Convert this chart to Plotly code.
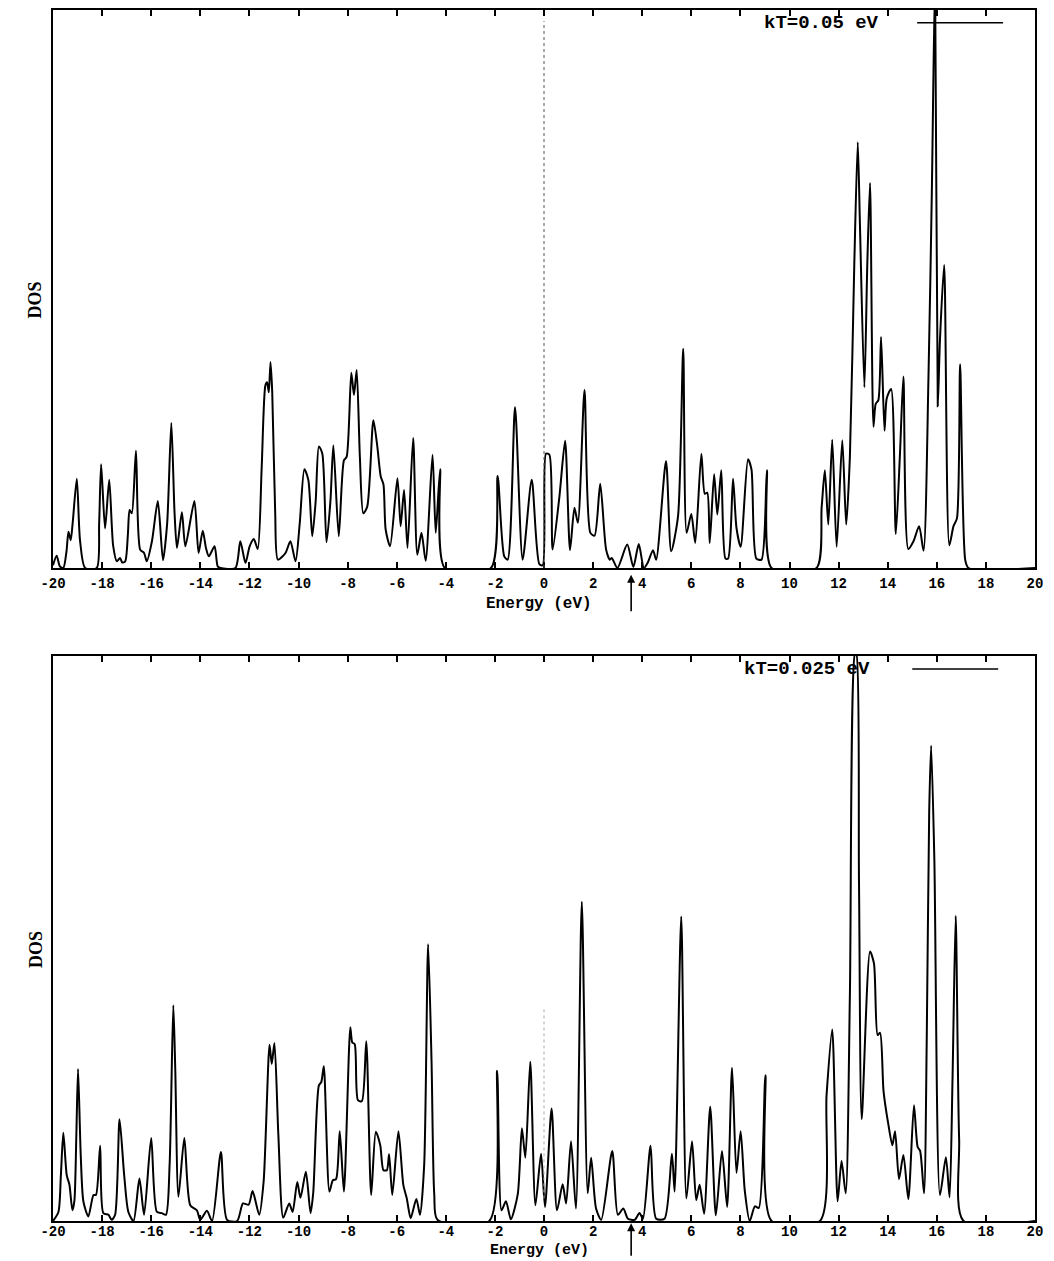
import plotly.graph_objects as go

# ---------------- data ----------------
energy_top = [-20.0, -19.85, -19.72, -19.58, -19.45, -19.37, -19.28, -19.2, -19.03, -18.9, -18.69,
              -18.22, -18.12, -18.04, -17.88, -17.71, -17.55, -17.40, -17.27, -17.18, -17.06,
              -16.95, -16.88, -16.79, -16.62, -16.45, -16.29, -16.18, -15.97, -15.73, -15.52,
              -15.35, -15.18, -15.05, -14.95, -14.75, -14.61, -14.24, -14.07, -13.90, -13.77,
              -13.65, -13.42, -13.29, -13.18, -12.57, -12.37, -12.16, -11.99, -11.82, -11.66,
              -11.50, -11.35, -11.28, -11.21, -11.14, -11.07, -10.95, -10.84, -10.53, -10.33,
              -10.12, -9.95, -9.76, -9.60, -9.44, -9.30, -9.17, -9.03, -8.86, -8.70, -8.58,
              -8.36, -8.15, -8.04, -7.85, -7.74, -7.63, -7.50, -7.36, -7.20, -6.95, -6.79,
              -6.65, -6.54, -6.45, -6.27, -5.97, -5.84, -5.70, -5.56, -5.33, -5.16, -4.99,
              -4.82, -4.54, -4.41, -4.23, -4.04, -2.16, -1.89, -1.62, -1.48, -1.18, -0.87,
              -0.50, -0.19, -0.05, 0.08, 0.22, 0.35, 0.63, 0.86, 1.06, 1.24, 1.38, 1.65,
              1.89, 2.06, 2.29, 2.53, 2.68, 2.76, 2.99, 3.39, 3.64, 3.86, 4.07, 4.23, 4.44,
              4.57, 4.97, 5.18, 5.46, 5.67, 5.81, 6.00, 6.16, 6.41, 6.55, 6.65, 6.75, 6.93,
              7.06, 7.22, 7.39, 7.50, 7.70, 7.84, 8.01, 8.31, 8.45, 8.65, 8.86, 9.08, 9.27,
              11.10, 11.31, 11.44, 11.58, 11.74, 11.92, 12.15, 12.31, 12.46, 12.64, 12.78,
              12.87, 13.05, 13.17, 13.28, 13.42, 13.51, 13.62, 13.73, 13.87, 13.96, 14.14,
              14.33, 14.50, 14.64, 14.84, 15.05, 15.28, 15.46, 15.66, 15.80, 15.93, 16.04,
              16.13, 16.30, 16.51, 16.68, 16.82, 16.95, 17.16, 17.29, 20.0]
dos_top = [0.5, 2.2, 0.3, 0, 3.0, 6.5, 5.0, 8.0, 16.0, 5.0, 0,
           0, 8.0, 18.6, 7.1, 15.8, 4.0, 1.2, 1.8, 1.0, 1.2,
           6.0, 10.4, 9.8, 21.0, 3.3, 2.7, 1.2, 4.8, 12.0, 1.4,
           8.0, 26.0, 10.0, 3.6, 10.0, 3.9, 12.0, 2.7, 6.7, 3.6,
           2.1, 3.9, 0.3, 0, 0, 4.8, 0.9, 3.9, 5.2, 3.4,
           18.0, 32.7, 33.3, 31.5, 36.9, 31.5, 10.0, 1.5, 2.7, 4.8,
           1.2, 8.0, 17.7, 15.8, 5.7, 12.0, 21.8, 20.5, 4.6, 12.0, 22.0,
           5.7, 19.3, 19.9, 35.0, 31.0, 35.5, 19.9, 9.8, 11.0, 26.5, 21.8,
           16.4, 15.0, 6.9, 3.9, 16.1, 7.5, 14.0, 3.6, 23.3, 2.4, 6.3,
           1.3, 20.3, 6.3, 17.7, 0, 0, 16.5, 2.1, 1.5, 28.8, 1.5,
           15.8, 0.7, 0.5, 20.5, 20.3, 3.3, 12.9, 22.8, 3.2, 10.8, 8.1, 31.9,
           6.3, 5.8, 15.1, 3.3, 1.5, 1.8, 0, 4.2, 0.2, 4.3, 0, 1.0, 3.2,
           1.5, 19.2, 3.0, 9.3, 39.3, 6.3, 9.7, 4.5, 20.5, 13.3, 13.5, 4.5, 16.8,
           9.6, 17.5, 1.7, 1.7, 16.0, 7.2, 3.8, 19.5, 17.7, 1.7, 1.5, 17.5, 0,
           0, 10.9, 17.5, 7.8, 23.0, 3.8, 22.9, 7.8, 20.0, 54.6, 76.3,
           61.4, 32.4, 54.6, 69.0, 25.3, 29.4, 30.1, 41.4, 24.6, 30.4, 32.1,
           6.1, 20.5, 34.3, 3.4, 4.8, 7.5, 3.1, 34.0, 68.0, 106.0, 29.0,
           41.0, 54.3, 4.1, 7.5, 8.9, 36.5, 1.4, 0, 0]

energy_bot = [-20.0, -19.78, -19.68, -19.58, -19.44, -19.33, -19.21, -19.13, -19.05, -18.98, -18.87,
              -18.76, -18.56, -18.35, -18.25, -18.08, -17.95, -17.74, -17.61, -17.47, -17.29,
              -17.10, -16.93, -16.72, -16.48, -16.29, -16.00, -15.77, -15.57, -15.40, -15.25,
              -15.10, -15.02, -14.89, -14.65, -14.41, -14.14, -14.00, -13.73, -13.52, -13.16,
              -12.91, -12.50, -12.26, -12.03, -11.87, -11.60, -11.42, -11.18, -11.09, -10.98,
              -10.82, -10.62, -10.38, -10.24, -10.05, -9.92, -9.70, -9.51, -9.40, -9.17, -9.07,
              -8.97, -8.74, -8.60, -8.47, -8.32, -8.15, -7.89, -7.81, -7.71, -7.58, -7.42,
              -7.24, -7.04, -6.85, -6.67, -6.54, -6.40, -6.31, -6.18, -5.93, -5.73, -5.59,
              -5.43, -5.20, -5.05, -4.88, -4.72, -4.58, -4.47, -4.34, -2.23, -1.91, -1.73,
              -1.55, -1.35, -1.07, -0.90, -0.76, -0.56, -0.35, -0.12, 0.04, 0.31, 0.53, 0.76,
              0.90, 1.10, 1.30, 1.54, 1.78, 1.92, 2.12, 2.33, 2.78, 3.01, 3.23, 3.42, 3.69,
              3.89, 4.03, 4.34, 4.57, 4.91, 5.21, 5.32, 5.59, 5.80, 6.03, 6.20, 6.34, 6.52,
              6.77, 7.00, 7.25, 7.46, 7.66, 7.84, 8.01, 8.18, 8.38, 8.59, 8.75, 9.02, 9.27,
              11.24, 11.51, 11.74, 11.96, 12.12, 12.29, 12.46, 12.67, 12.72, 12.83, 12.94,
              13.28, 13.44, 13.59, 13.69, 13.83, 14.03, 14.19, 14.30, 14.46, 14.64, 14.84,
              15.07, 15.22, 15.32, 15.48, 15.59, 15.69, 15.77, 15.90, 16.13, 16.37, 16.52,
              16.64, 16.77, 16.91, 17.09, 20.0]
dos_bot = [0, 1.6, 8.0, 15.6, 8.1, 6.4, 1.9, 3.5, 15.0, 26.9, 11.6,
           3.4, 0.8, 4.6, 4.6, 13.3, 1.4, 1.1, 0.2, 1.1, 18.0,
           8.1, 1.6, 0, 7.5, 1.1, 14.7, 1.6, 1.4, 1.1, 10.0,
           38.2, 26.9, 4.3, 14.7, 2.8, 1.9, 0.2, 1.8, 0, 12.2,
           0.2, 0, 3.1, 2.9, 5.3, 1.1, 7.0, 31.2, 27.8, 31.5,
           15.2, 0.6, 3.1, 1.6, 6.9, 4.1, 8.7, 1.4, 5.0, 24.0, 24.6,
           27.4, 5.2, 7.2, 7.4, 15.9, 5.2, 34.3, 31.6, 31.3, 21.4, 21.2,
           31.8, 4.6, 15.8, 13.4, 9.0, 9.0, 11.8, 4.6, 15.9, 6.4, 4.0,
           0.5, 3.9, 1.1, 10.0, 49.0, 28.1, 4.7, 0.2, 0, 26.6, 1.9,
           3.5, 0.3, 4.7, 16.4, 11.2, 28.2, 2.8, 11.9, 2.5, 19.9, 1.9, 6.5,
           3.1, 14.1, 2.2, 56.5, 4.9, 11.2, 2.2, 0.2, 12.4, 1.1, 2.2, 0.4, 0.2,
           1.4, 0.4, 13.3, 0.4, 0.4, 11.9, 5.2, 53.9, 4.0, 14.1, 3.7, 6.4, 1.3,
           20.2, 1.0, 12.4, 2.5, 27.1, 8.5, 15.9, 5.3, 0, 2.6, 2.3, 25.8, 0,
           0, 22.3, 33.9, 3.5, 10.6, 4.9, 40.0, 100.5, 100.5, 60.4, 18.0,
           47.7, 45.6, 32.9, 33.3, 23.0, 17.0, 13.4, 15.9, 7.4, 11.7, 3.9,
           20.5, 13.1, 12.4, 4.9, 32.0, 72.4, 84.1, 64.0, 4.6, 11.3, 4.2,
           25.0, 54.0, 14.5, 0, 0]

tick_vals = [-20, -18, -16, -14, -12, -10, -8, -6, -4, -2, 0, 2, 4, 6, 8, 10, 12, 14, 16, 18, 20]
tick_text = ["-20", "-18", "-16", "-14", "-12", "-10", "-8", "-6", "-4", "-2", "0",
             "2", "4", "6", "8", "10", "12", "14", "16", "18", "20"]
legend_top = "kT=0.05 eV"
legend_bot = "kT=0.025 eV"
x_title = "Energy (eV)"
y_title = "DOS"
fermi_marker = 3.55

# ---------------- figure ----------------
fig = go.Figure()
fig.add_trace(go.Scatter(x=energy_top, y=dos_top, mode="lines", xaxis="x", yaxis="y",
                         line=dict(color="black", width=2, shape="spline", smoothing=0.7),
                         showlegend=False))
fig.add_trace(go.Scatter(x=energy_bot, y=dos_bot, mode="lines", xaxis="x2", yaxis="y2",
                         line=dict(color="black", width=2, shape="spline", smoothing=0.7),
                         showlegend=False))

tickfont = dict(family="Liberation Mono", size=14, color="black", weight="bold")
xcommon = dict(range=[-20, 20], tickmode="array", tickvals=tick_vals, ticktext=tick_text,
               ticks="inside", ticklen=6, tickwidth=2, tickcolor="black",
               showline=True, linecolor="black", linewidth=2, mirror="ticks",
               showgrid=False, zeroline=False, tickfont=tickfont)
ycommon = dict(range=[0, 100], showline=True, linecolor="black", linewidth=2, mirror=True,
               ticks="", showticklabels=False, showgrid=False, zeroline=False)

fig.update_layout(
    width=1054, height=1261,
    margin=dict(l=53, r=19, t=8, b=40),
    paper_bgcolor="white", plot_bgcolor="white",
    xaxis=dict(anchor="y", domain=[0, 1], ticklabelstandoff=1, **xcommon),
    yaxis=dict(anchor="x", domain=[0.5392, 1.0], **ycommon),
    xaxis2=dict(anchor="y2", domain=[0, 1], ticklabelstandoff=-4, **xcommon),
    yaxis2=dict(anchor="x2", domain=[0.0, 0.4666], **ycommon),
    showlegend=False,
)

# dotted line at E = 0 (top panel), faint dots in the bottom panel
fig.add_shape(type="line", xref="x", yref="y", x0=0, x1=0, y0=0, y1=98,
              line=dict(color="#555", width=1, dash="dot"))
fig.add_shape(type="line", xref="x2", yref="y2", x0=0, x1=0, y0=4, y1=38,
              line=dict(color="#aaa", width=1, dash="dot"))

doffont = dict(family="Liberation Serif", size=18, color="black", weight="bold")

for xr, yr, ytitle, leg, lx, l0, l1, ttl_y, ttl_size in [
        ("x", "y", "y domain", legend_top, 11.3, 15.2, 18.7, -0.064, 16),
        ("x2", "y2", "y2 domain", legend_bot, 10.7, 15.0, 18.5, -0.053, 15)]:
    # legend text + sample line
    fig.add_annotation(x=lx, y=0.977, xref=xr, yref=ytitle, text=leg, showarrow=False,
                       font=dict(family="Liberation Mono", size=19, color="black", weight="bold"),
                       xanchor="center", yanchor="middle", bgcolor="rgba(0,0,0,0)")
    fig.add_shape(type="line", xref=xr, yref=ytitle, x0=l0, x1=l1, y0=0.977, y1=0.977,
                  line=dict(color="black", width=1.5))
    # axis title
    fig.add_annotation(x=-0.2, y=ttl_y, xref=xr, yref=ytitle, text=x_title, showarrow=False,
                       font=dict(family="Liberation Mono", size=ttl_size, color="black",
                                 weight="bold"),
                       xanchor="center", yanchor="middle")
    # y title
    fig.add_annotation(x=-0.018, y=0.48, xref="paper", yref=ytitle, text=y_title,
                       showarrow=False, textangle=-90, font=doffont,
                       xanchor="center", yanchor="middle")

# arrows below the axes
fig.add_annotation(x=fermi_marker, y=-0.012, xref="x", yref="y domain", text="",
                   showarrow=True, arrowhead=2, arrowsize=1, arrowwidth=1.6, arrowcolor="black",
                   ax=0, ay=38)
fig.add_annotation(x=fermi_marker, y=-0.004, xref="x2", yref="y2 domain", text="",
                   showarrow=True, arrowhead=2, arrowsize=1, arrowwidth=1.6, arrowcolor="black",
                   ax=0, ay=34)

fig.write_html("out.html")
